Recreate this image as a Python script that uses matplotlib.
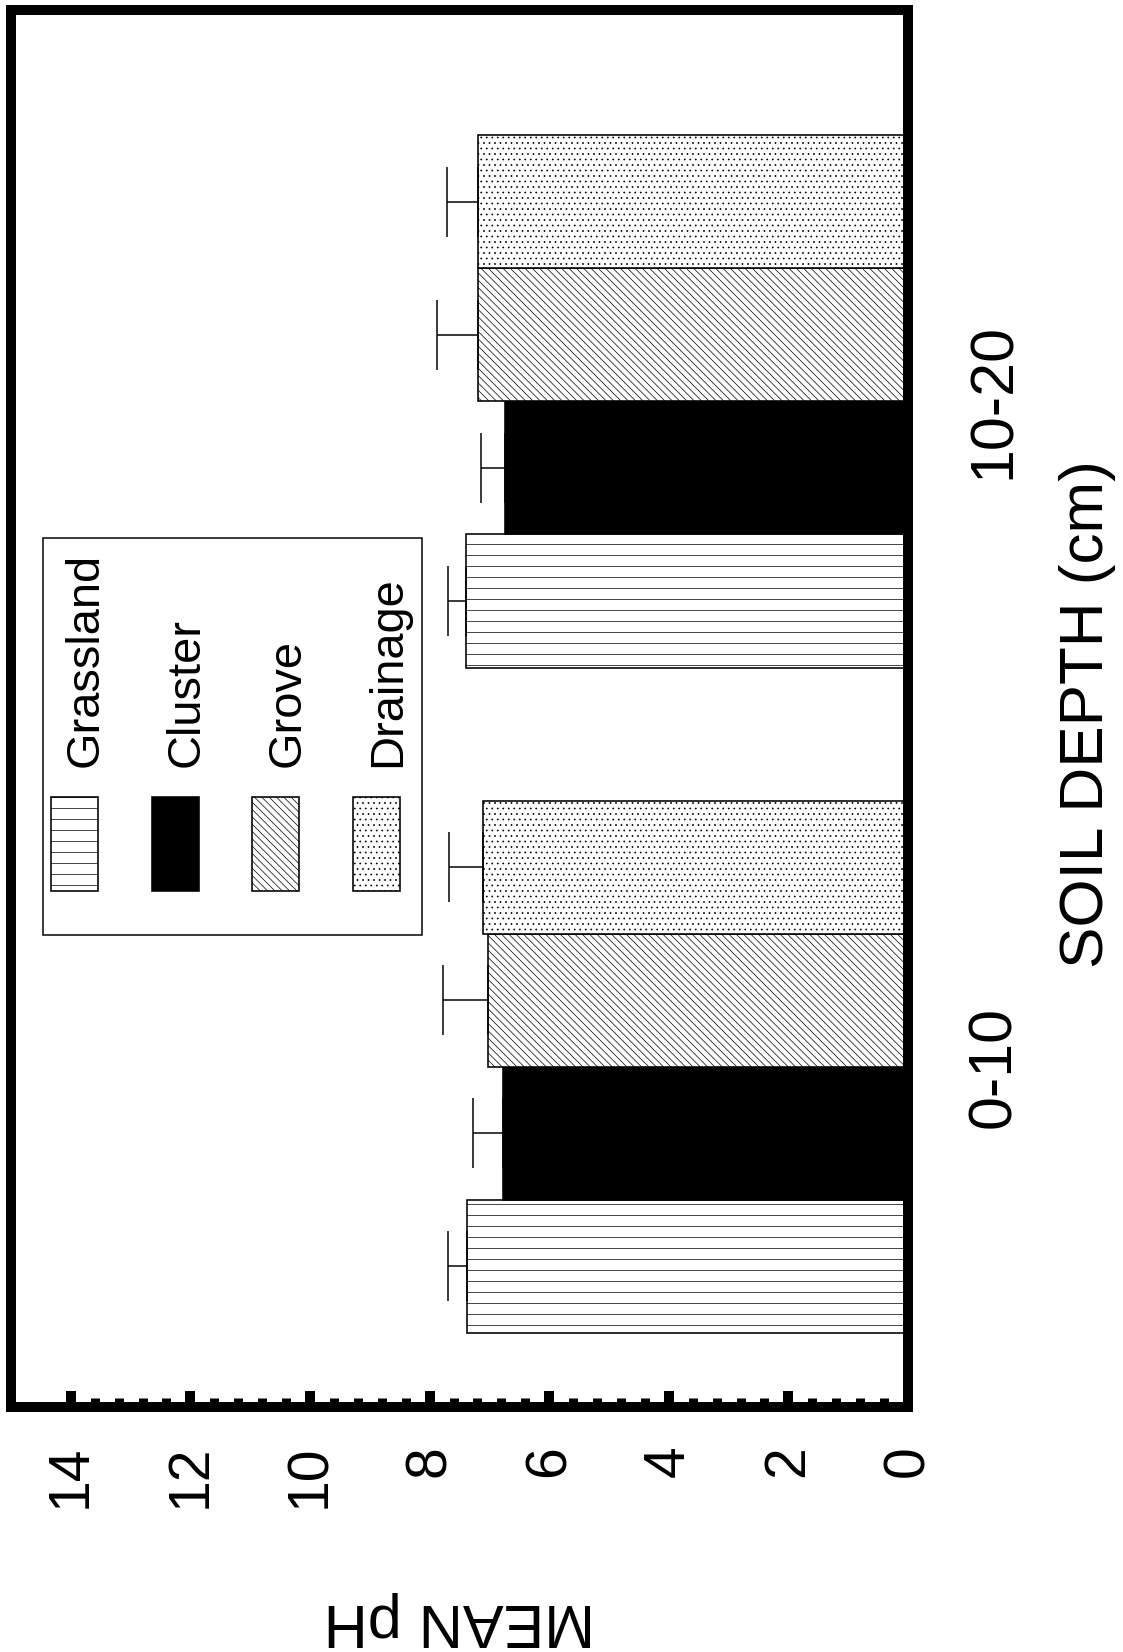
import numpy as np
import matplotlib
matplotlib.use('Agg')
import matplotlib.pyplot as plt
from matplotlib.patches import Rectangle
from matplotlib.ticker import FixedLocator

# dpi chosen so the hatch cell (1 inch) gives the line spacing of the print
DPI = 66


def pt(px):
    return px * 72.0 / DPI


depths = ['0-10', '10-20']
sites = ['Grassland', 'Cluster', 'Grove', 'Drainage']

grassland = [7.38, 7.39]
cluster = [6.77, 6.74]
grove = [7.03, 7.19]
drainage = [7.11, 7.19]

grassland_se = [0.32, 0.31]
cluster_se = [0.50, 0.40]
grove_se = [0.75, 0.69]
drainage_se = [0.57, 0.52]

series = [grassland, cluster, grove, drainage]
errors = [grassland_se, cluster_se, grove_se, drainage_se]
faces = ['white', 'black', 'white', 'white']
hatches = ['-', '', '\\\\\\', '..']

plt.rcParams['font.family'] = ['Liberation Sans', 'DejaVu Sans']
plt.rcParams['hatch.linewidth'] = pt(0.7)
plt.rcParams['hatch.color'] = 'black'

fig = plt.figure(figsize=(1123 / DPI, 1652 / DPI), dpi=DPI)
fig.patch.set_facecolor('white')
ax = fig.add_axes([11 / 1123, 245 / 1652, 897 / 1123, 1397 / 1652])

for i in range(len(sites)):
    ypos = [g * 5 + i for g in range(len(depths))]
    ax.barh(ypos, series[i], height=1.0, left=0, color=faces[i],
            edgecolor='black', hatch=hatches[i], linewidth=pt(1.6), zorder=2)
    ax.errorbar(series[i], ypos, xerr=[np.zeros(len(depths)), errors[i]],
                fmt='none', ecolor='black', elinewidth=pt(1.5),
                capsize=pt(35), capthick=pt(1.5), zorder=3)

ax.set_xlim(15, 0)
ax.set_ylim(-1.056, 9.44)

# value axis (bottom)
ax.set_xticks(range(0, 15, 2))
minor = [round(k * 0.4, 1) for k in range(1, 35) if k % 5 != 0]
ax.xaxis.set_minor_locator(FixedLocator(minor))
ax.xaxis.set_ticks_position('bottom')
ax.tick_params(axis='x', which='major', direction='in', length=pt(16),
               width=pt(10), pad=pt(38), labelsize=pt(57), labelrotation=90)
ax.tick_params(axis='x', which='minor', direction='in', length=pt(9),
               width=pt(9))

# category axis (right)
ax.set_yticks([1.5, 6.5], depths)
ax.yaxis.tick_right()
ax.tick_params(axis='y', length=0, pad=pt(58), labelsize=pt(61),
               labelrotation=90)
for lbl in ax.get_yticklabels():
    lbl.set_va('center')

for s in ax.spines.values():
    s.set_linewidth(pt(10))
    s.set_zorder(5)

ax.set_xlabel('MEAN pH', fontsize=pt(61), rotation=180, ha='center', va='center')
ax.xaxis.set_label_coords(0.5, -0.1518)
ax.yaxis.set_label_position('right')
ax.set_ylabel('SOIL DEPTH (cm)', fontsize=pt(62), rotation=90, ha='center', va='center')
ax.yaxis.set_label_coords(1.1996, 0.496)

# legend, drawn sideways like the rest of the page
ax.add_patch(Rectangle((0.0357, 0.3379), 0.4225, 0.2842, transform=ax.transAxes,
                       facecolor='white', edgecolor='black', lw=pt(1.5), zorder=5))
for i, name in enumerate(sites):
    x0 = 0.0446 + i * 0.1123
    ax.add_patch(Rectangle((x0, 0.3694), 0.0524, 0.0673, transform=ax.transAxes,
                           facecolor=faces[i], edgecolor='black', hatch=hatches[i],
                           lw=pt(1.6), zorder=6))
    ax.text(x0 + 0.0524, 0.4581, name, transform=ax.transAxes, rotation=90,
            rotation_mode='anchor', ha='left', va='baseline', fontsize=pt(47),
            zorder=6)

fig.savefig('out.png', dpi=DPI)
